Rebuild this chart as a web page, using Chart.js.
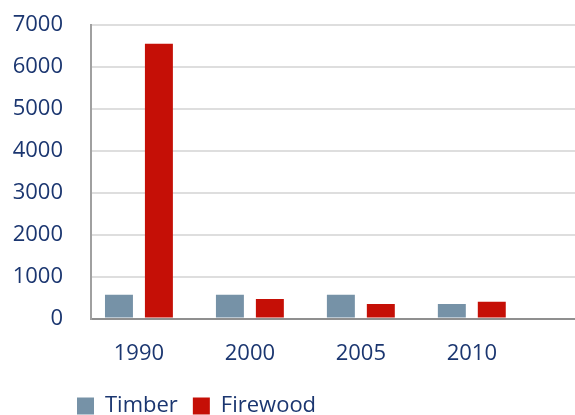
<!DOCTYPE html>
<html>
<head>
<meta charset="utf-8">
<script src="https://cdn.jsdelivr.net/npm/chart.js@4"></script>
<style>
  html, body { margin: 0; padding: 0; background: #ffffff; }
  #wrap { width: 575px; height: 415px; }
</style>
</head>
<body>
<div id="wrap"><canvas id="chart" width="575" height="415"></canvas></div>
<script>
// Years on the horizontal axis
const years = ['1990', '2000', '2005', '2010'];
// Values per year
const timber = [570, 570, 570, 350];
const firewood = [6550, 470, 350, 400];
// Vertical axis ticks
const yTicks = [0, 1000, 2000, 3000, 4000, 5000, 6000, 7000];

const navy = '#1b3670';
const font = { family: '"Open Sans", sans-serif', size: 22, weight: 500 };

// Moves the legend row to sit under the axis labels
const legendShift = {
  id: 'legendShift',
  afterUpdate(chart) {
    const lg = chart.legend;
    if (lg) { lg.left += 49; lg.top -= 9; }
  }
};

function draw() {
  new Chart(document.getElementById('chart'), {
    type: 'bar',
    data: {
      datasets: [
        { label: 'Timber', data: timber.map((v, i) => ({ x: i, y: v })), backgroundColor: '#7692a7' },
        { label: 'Firewood', data: firewood.map((v, i) => ({ x: i, y: v })), backgroundColor: '#c50f06' }
      ]
    },
    options: {
      responsive: false,
      animation: false,
      devicePixelRatio: 1,
      categoryPercentage: 0.72,
      barPercentage: 0.7,
      layout: { padding: { top: 25, right: 0, left: 13, bottom: -21 } },
      plugins: {
        tooltip: { enabled: false },
        legend: {
          position: 'bottom',
          align: 'start',
          labels: { boxWidth: 17, boxHeight: 17, padding: 15, color: navy, font: font }
        }
      },
      scales: {
        x: {
          type: 'linear',
          offset: false,
          min: -0.432,
          max: 3.93,
          grid: { display: false, drawTicks: false, offset: false },
          border: { color: '#8f8f8f', width: 2 },
          afterFit: (s) => { s.paddingLeft = 0; s.paddingRight = 0; },
          ticks: {
            stepSize: 1,
            includeBounds: false,
            padding: 22,
            color: navy,
            font: font,
            callback: (v) => Number.isInteger(v) && years[v] !== undefined ? years[v] : ''
          }
        },
        y: {
          min: yTicks[0],
          max: yTicks[yTicks.length - 1],
          grid: { color: '#dedede', lineWidth: 2, drawTicks: false },
          border: { color: '#a0a0a0', width: 2 },
          afterBuildTicks: (s) => { s.ticks = yTicks.map(v => ({ value: v })); },
          afterFit: (s) => { s.width = 78; s.paddingTop = 0; s.paddingBottom = 0; },
          ticks: { padding: 28, color: navy, font: font, callback: (v) => String(v) }
        }
      }
    },
    plugins: [legendShift]
  });
}

// Draw once the label font is ready so text is measured correctly
if (document.fonts && document.fonts.load) {
  document.fonts.load('500 22px "Open Sans"').then(draw, draw);
} else {
  draw();
}
</script>
</body>
</html>
